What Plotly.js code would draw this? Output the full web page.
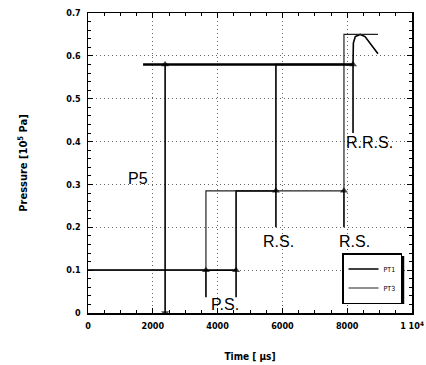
<!DOCTYPE html>
<html>
<head>
<meta charset="utf-8">
<script src="https://cdn.plot.ly/plotly-3.0.1.min.js"></script>
<style>html,body{margin:0;padding:0;background:#fff;}#chart{width:426px;height:365px;}</style>
</head>
<body>
<div id="chart"></div>
<script>
// ---- data ----
const timePT1 = [0, 4570, 4570, 5800, 5800, 8180, 8190, 8250, 8400, 8550, 8950];
const presPT1 = [0.1, 0.1, 0.285, 0.285, 0.58, 0.58, 0.63, 0.645, 0.65, 0.645, 0.605];
const timePT3 = [0, 3640, 3640, 7900, 7900, 8950];
const presPT3 = [0.1, 0.1, 0.285, 0.285, 0.65, 0.65];
const p5Time = [1700, 8180];
const p5Level = [0.58, 0.58];

const xTickVals = [0, 2000, 4000, 6000, 8000, 10000];
const xTickText = ['0', '2000', '4000', '6000', '8000', '1 10<sup>4</sup>'];
const yTickVals = [0, 0.1, 0.2, 0.3, 0.4, 0.5, 0.6, 0.7];
const yTickText = ['0', '0.1', '0.2', '0.3', '0.4', '0.5', '0.6', '0.7'];

// arrows: x, tail y, head y, double-headed?
const arrowX    = [2380, 3640, 4570, 5800, 7900, 8180];
const arrowTail = [0.58, 0.037, 0.037, 0.2, 0.2, 0.42];
const arrowHead = [0.0, 0.1, 0.1, 0.285, 0.285, 0.58];
const arrowBoth = [true, false, false, false, false, false];

const labelText = ['P5', 'P.S.', 'R.S.', 'R.S.', 'R.R.S.'];
const labelX    = [1540, 4230, 5880, 8210, 8700];
const labelY    = [0.313, 0.02, 0.166, 0.166, 0.397];

const traces = [
  {x: timePT1, y: presPT1, type: 'scatter', mode: 'lines', name: 'PT1',
   line: {color: '#000', width: 1.6}},
  {x: timePT3, y: presPT3, type: 'scatter', mode: 'lines', name: 'PT3',
   line: {color: '#222', width: 1.2}},
  {x: p5Time, y: p5Level, type: 'scatter', mode: 'lines', showlegend: false,
   line: {color: '#000', width: 2.4}, hoverinfo: 'skip'}
];

for (let i = 0; i < arrowX.length; i++) {
  const up = arrowHead[i] > arrowTail[i];
  traces.push({
    x: [arrowX[i], arrowX[i]], y: [arrowTail[i], arrowHead[i]],
    type: 'scatter', mode: 'lines+markers', showlegend: false, hoverinfo: 'skip',
    line: {color: '#000', width: 1.6},
    marker: {symbol: [up ? 'triangle-down' : 'triangle-up', up ? 'triangle-up' : 'triangle-down'],
             color: '#000', size: [arrowBoth[i] ? 7 : 0, 7], line: {width: 0}}
  });
}

const annotations = [];
for (let i = 0; i < labelText.length; i++) {
  annotations.push({
    x: labelX[i], y: labelY[i], xref: 'x', yref: 'y', text: labelText[i],
    showarrow: false, font: {family: 'Liberation Sans, Arial, sans-serif', size: 16, color: '#000'}
  });
}

const tickFont = {family: 'DejaVu Sans Condensed, DejaVu Sans, sans-serif', size: 9, color: '#000', weight: 'bold'};

const layout = {
  width: 426, height: 365,
  margin: {l: 88, r: 14, t: 13, b: 52},
  paper_bgcolor: '#fff', plot_bgcolor: '#fff',
  showlegend: true,
  legend: {x: 0.784, y: 0.2, xanchor: 'left', yanchor: 'top',
           bgcolor: '#fff', bordercolor: '#000', borderwidth: 1.5,
           font: {family: 'DejaVu Sans Condensed, sans-serif', size: 7, color: '#000'},
           tracegroupgap: 0, itemwidth: 30},
  shapes: [
    {type: 'rect', xref: 'paper', yref: 'paper', layer: 'above',
     x0: 0.795, x1: 0.976, y0: 0.03, y1: 0.19,
     fillcolor: '#000', line: {width: 0}}
  ],
  xaxis: {
    range: [0, 10000], tickvals: xTickVals, ticktext: xTickText,
    showline: true, linecolor: '#000', linewidth: 1.5, mirror: 'ticks',
    ticks: 'inside', ticklen: 5, tickcolor: '#000', ticklabelstandoff: 4,
    minor: {ticks: 'inside', ticklen: 3, dtick: 500, tickcolor: '#000', showgrid: false},
    showgrid: true, gridcolor: '#666', griddash: '1px,3px', gridwidth: 1,
    zeroline: false, tickfont: tickFont,
    title: {text: 'Time [ µs]', font: {family: 'DejaVu Sans Condensed, sans-serif', size: 10, color: '#000', weight: 'bold'}, standoff: 22}
  },
  yaxis: {
    range: [0, 0.7], tickvals: yTickVals, ticktext: yTickText,
    showline: true, linecolor: '#000', linewidth: 1.5, mirror: 'ticks',
    ticks: 'inside', ticklen: 5, tickcolor: '#000',
    minor: {ticks: 'inside', ticklen: 3, dtick: 0.02, tickcolor: '#000', showgrid: false},
    showgrid: true, gridcolor: '#666', griddash: '1px,3px', gridwidth: 1,
    zeroline: false, tickfont: tickFont, ticklabelstandoff: 4,
    title: {text: 'Pressure [10<sup>5</sup> Pa]', font: {family: 'DejaVu Sans Condensed, sans-serif', size: 11, color: '#000', weight: 'bold'}, standoff: 36}
  },
  annotations: annotations
};

Plotly.newPlot('chart', traces, layout, {displayModeBar: false, staticPlot: true});
</script>
</body>
</html>
